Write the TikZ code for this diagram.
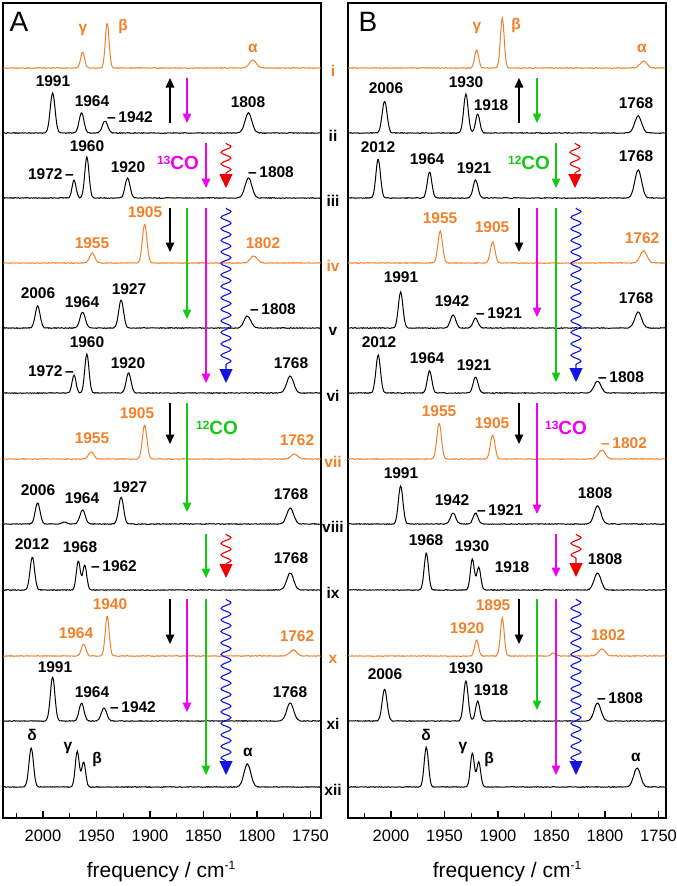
\documentclass[tikz,border=0pt]{standalone}
\usepackage{fontspec}
\setmainfont{Liberation Sans}
\usetikzlibrary{arrows.meta,decorations.pathmorphing}

\definecolor{orangeC}{RGB}{242,128,40}
\definecolor{magC}{RGB}{240,0,240}
\definecolor{greenC}{RGB}{20,200,20}
\definecolor{blueC}{RGB}{20,20,225}
\definecolor{redC}{RGB}{240,0,0}

% one trace per panel, #1 baseline, #2 style, #3 sum of peaks
\newcommand{\specA}[3]{\draw[#2] plot[variable=\n,domain=1740.5:2037,samples=400] ({43+(2000-\n)*1.07},{#1-(#3)+0.35*rand});}
\newcommand{\specB}[3]{\draw[#2] plot[variable=\n,domain=1743.5:2040,samples=400] ({391+(2000-\n)*1.07},{#1-(#3)+0.35*rand});}
\newcommand{\isotope}[1]{\raisebox{5pt}{\fontsize{12}{12}\selectfont #1}}

\begin{document}
\begin{tikzpicture}[x=1pt,y=-1pt,
  declare function={pk(\xx,\cc,\hh,\ww)=\hh*exp(-((\xx-\cc)/\ww)*((\xx-\cc)/\ww));}]
  \tikzset{ blk/.style={black,line width=1pt},
    org/.style={orangeC,line width=1pt},
    lab/.style={font=\bfseries\fontsize{15.5}{16}\selectfont,inner sep=0pt},
    olab/.style={lab,text=orangeC},
    iso/.style={font=\bfseries\fontsize{19}{19}\selectfont,inner sep=0pt},
    tick/.style={font=\fontsize{16.5}{17}\selectfont,inner sep=0pt},
    arr/.style={line width=1.4pt,-{Triangle[length=9.5pt,width=8.5pt]}},
    wavy/.style={line width=1.1pt,decorate,
      decoration={snake,amplitude=5pt,segment length=11.5pt,post length=13pt},
      -{Triangle[length=14pt,width=13pt]}},
    frame/.style={line width=1.2pt},
  }
  \useasboundingbox (0,0) rectangle (677,886);

  % frames and axes
  \draw[frame] (3,3) rectangle (321,818);
  \draw[frame] (348,3) rectangle (666,818);
  \foreach \o/\p in {43/A,391/B}{
    \foreach \f in {2000,1950,...,1750}{
      \draw[frame] ({\o+(2000-\f)*1.07},818) -- ++(0,-7);
      \node[tick] (t\p\f) at ({\o+(2000-\f)*1.07},836) {\f};
    }
    \foreach \f in {2025,1975,...,1775}
      \draw[frame] ({\o+(2000-\f)*1.07},818) -- ++(0,-5);
  }
  \node[font=\fontsize{21}{21}\selectfont] (xA) at (161,872) {frequency / cm\raisebox{8pt}{\fontsize{12}{12}\selectfont -1}};
  \node[font=\fontsize{21}{21}\selectfont] (xB) at (507,872) {frequency / cm\raisebox{8pt}{\fontsize{12}{12}\selectfont -1}};
  \node[font=\fontsize{28}{28}\selectfont,inner sep=0pt] (pA) at (19,22) {A};
  \node[font=\fontsize{28}{28}\selectfont,inner sep=0pt] (pB) at (368,22) {B};

  % row labels
  \foreach \t/\c/\y [count=\k] in {i/orangeC/68,ii/black/133,iii/black/198,iv/orangeC/263,
      v/black/328,vi/black/393,vii/orangeC/459,viii/black/524,ix/black/590,
      x/orangeC/656,xi/black/721,xii/black/787}
    \node[lab,text=\c] (row\k) at (333,\y+3) {\t};

  % panel A traces
  \specA{68}{org}{pk(\n,1963,16,2.6)+pk(\n,1940,45,2.5)+pk(\n,1804,8,4.5)}
  \specA{133}{blk}{pk(\n,1991,40,3.2)+pk(\n,1964,20,3.2)+pk(\n,1942,12,3.5)+pk(\n,1808,20,4.5)}
  \specA{198}{blk}{pk(\n,1971,18,2.6)+pk(\n,1959,41,2.8)+pk(\n,1921,20,3.2)+pk(\n,1808,20,4.5)}
  \specA{263}{org}{pk(\n,1954,10,3.5)+pk(\n,1905,39,3)+pk(\n,1803,7,4.5)}
  \specA{328}{blk}{pk(\n,2005,22,3.2)+pk(\n,1963,16,3.5)+pk(\n,1927,28,3.2)+pk(\n,1809,12,4.5)}
  \specA{393}{blk}{pk(\n,1971,18,2.6)+pk(\n,1959,39,2.8)+pk(\n,1920,20,3.2)+pk(\n,1769,17,4.5)}
  \specA{459}{org}{pk(\n,1955,7,3.5)+pk(\n,1905,34,3)+pk(\n,1765,5,4.5)}
  \specA{524}{blk}{pk(\n,2005,21,3.2)+pk(\n,1980,2,3)+pk(\n,1963,14,3.5)+pk(\n,1927,27,3.2)+pk(\n,1769,16,4.5)}
  \specA{590}{blk}{pk(\n,2010,33,3)+pk(\n,1967,29,2.6)+pk(\n,1961,25,2.6)+pk(\n,1769,17,4.5)}
  \specA{656}{org}{pk(\n,1962,12,3)+pk(\n,1940,40,2.6)+pk(\n,1766,6,4.5)}
  \specA{721}{blk}{pk(\n,1991,44,3)+pk(\n,1964,18,3.2)+pk(\n,1943,13,3.5)+pk(\n,1769,18,4.5)}
  \specA{787}{blk}{pk(\n,2011,39,3)+pk(\n,1968,36,2.6)+pk(\n,1962,25,2.6)+pk(\n,1809,23,4.5)}

  % panel B traces
  \specB{68}{org}{pk(\n,1920,18,2.6)+pk(\n,1896,50,2.5)+pk(\n,1764,7,4.5)}
  \specB{133}{blk}{pk(\n,2006,32,3.2)+pk(\n,1930,39,3)+pk(\n,1919,19,2.8)+pk(\n,1769,17,4.5)}
  \specB{198}{blk}{pk(\n,2012,39,3)+pk(\n,1964,26,3)+pk(\n,1921,18,3.2)+pk(\n,1769,28,4.5)}
  \specB{263}{org}{pk(\n,1954,32,3)+pk(\n,1905,21,3)+pk(\n,1764,12,4.5)}
  \specB{328}{blk}{pk(\n,1991,36,3)+pk(\n,1942,13,3.5)+pk(\n,1921,10,3.2)+pk(\n,1769,16,4.5)}
  \specB{393}{blk}{pk(\n,2012,38,3)+pk(\n,1964,22,3)+pk(\n,1921,16,3.2)+pk(\n,1807,12,4.5)}
  \specB{459}{org}{pk(\n,1955,36,3)+pk(\n,1905,24,3)+pk(\n,1803,9,4.5)}
  \specB{524}{blk}{pk(\n,1991,38,3)+pk(\n,1942,11,3.5)+pk(\n,1921,11,3.2)+pk(\n,1807,18,4.5)}
  \specB{590}{blk}{pk(\n,1967,37,2.8)+pk(\n,1924,31,2.6)+pk(\n,1918,23,2.6)+pk(\n,1807,17,4.5)}
  \specB{656}{org}{pk(\n,1920,16,2.6)+pk(\n,1896,38,2.5)+pk(\n,1848,3,3)+pk(\n,1803,7,4.5)}
  \specB{721}{blk}{pk(\n,2006,32,3.2)+pk(\n,1930,40,3)+pk(\n,1919,20,2.8)+pk(\n,1807,18,4.5)}
  \specB{787}{blk}{pk(\n,1967,40,2.8)+pk(\n,1924,34,2.6)+pk(\n,1918,25,2.6)+pk(\n,1770,19,4.5)}

  % panel A labels
  \node[olab] (A1g) at (83,30) {γ};
  \node[olab] (A1b) at (123,26) {β};
  \node[olab] (A1a) at (253,48) {α};
  \node[lab] (A2a) at (53,81) {1991};
  \node[lab] (A2b) at (92,101) {1964};
  \node[lab,anchor=west] (A2c) at (107,117) {\textendash\,1942};
  \node[lab] (A2d) at (248,102) {1808};
  \node[lab,anchor=east] (A3a) at (74,174) {1972\,\textendash};
  \node[lab] (A3b) at (87,146) {1960};
  \node[lab] (A3c) at (128,167) {1920};
  \node[lab,anchor=west] (A3d) at (248,172) {\textendash\,1808};
  \node[iso,text=magC] (A3e) at (178,163) {\isotope{13}CO};
  \node[olab] (A4a) at (145,212) {1905};
  \node[olab] (A4b) at (92,243) {1955};
  \node[olab] (A4c) at (263,243) {1802};
  \node[lab] (A5a) at (38,293) {2006};
  \node[lab] (A5b) at (82,302) {1964};
  \node[lab] (A5c) at (129,289) {1927};
  \node[lab,anchor=west] (A5d) at (250,309) {\textendash\,1808};
  \node[lab,anchor=east] (A6a) at (74,371) {1972\,\textendash};
  \node[lab] (A6b) at (87,342) {1960};
  \node[lab] (A6c) at (128,363) {1920};
  \node[lab] (A6d) at (291,363) {1768};
  \node[olab] (A7a) at (137,413) {1905};
  \node[olab] (A7b) at (92,438) {1955};
  \node[olab] (A7c) at (297,440) {1762};
  \node[iso,text=greenC] (A7d) at (217,428) {\isotope{12}CO};
  \node[lab] (A8a) at (38,490) {2006};
  \node[lab] (A8b) at (82,498) {1964};
  \node[lab] (A8c) at (130,487) {1927};
  \node[lab] (A8d) at (291,494) {1768};
  \node[lab] (A9a) at (32,544) {2012};
  \node[lab] (A9b) at (80,547) {1968};
  \node[lab,anchor=west] (A9c) at (91,566) {\textendash\,1962};
  \node[lab] (A9d) at (291,558) {1768};
  \node[olab] (A10a) at (110,604) {1940};
  \node[olab] (A10b) at (76,633) {1964};
  \node[olab] (A10c) at (297,636) {1762};
  \node[lab] (A11a) at (55,667) {1991};
  \node[lab] (A11b) at (92,692) {1964};
  \node[lab,anchor=west] (A11c) at (110,707) {\textendash\,1942};
  \node[lab] (A11d) at (290,692) {1768};
  \node[lab] (A12d) at (32,735) {δ};
  \node[lab] (A12g) at (68,748) {γ};
  \node[lab] (A12b) at (97,759) {β};
  \node[lab] (A12a) at (248,752) {α};

  % panel B labels
  \node[olab] (B1g) at (477,28) {γ};
  \node[olab] (B1b) at (516,25) {β};
  \node[olab] (B1a) at (642,48) {α};
  \node[lab] (B2a) at (386,88) {2006};
  \node[lab] (B2b) at (466,82) {1930};
  \node[lab] (B2c) at (491,105) {1918};
  \node[lab] (B2d) at (636,103) {1768};
  \node[lab] (B3a) at (378,147) {2012};
  \node[lab] (B3b) at (427,159) {1964};
  \node[lab] (B3c) at (474,168) {1921};
  \node[lab] (B3d) at (636,156) {1768};
  \node[iso,text=greenC] (B3e) at (529,163) {\isotope{12}CO};
  \node[olab] (B4a) at (440,218) {1955};
  \node[olab] (B4b) at (492,227) {1905};
  \node[olab] (B4c) at (642,238) {1762};
  \node[lab] (B5a) at (401,277) {1991};
  \node[lab] (B5b) at (452,301) {1942};
  \node[lab,anchor=west] (B5c) at (476,313) {\textendash\,1921};
  \node[lab] (B5d) at (636,298) {1768};
  \node[lab] (B6a) at (379,342) {2012};
  \node[lab] (B6b) at (427,358) {1964};
  \node[lab] (B6c) at (474,365) {1921};
  \node[lab,anchor=west] (B6d) at (598,377) {\textendash\,1808};
  \node[olab] (B7a) at (439,411) {1955};
  \node[olab] (B7b) at (492,423) {1905};
  \node[olab,anchor=west] (B7c) at (601,443) {\textendash\,1802};
  \node[iso,text=magC] (B7d) at (566,428) {\isotope{13}CO};
  \node[lab] (B8a) at (401,473) {1991};
  \node[lab] (B8b) at (452,500) {1942};
  \node[lab,anchor=west] (B8c) at (477,510) {\textendash\,1921};
  \node[lab] (B8d) at (595,493) {1808};
  \node[lab] (B9a) at (426,540) {1968};
  \node[lab] (B9b) at (472,546) {1930};
  \node[lab] (B9c) at (512,567) {1918};
  \node[lab] (B9d) at (605,559) {1808};
  \node[olab] (B10a) at (493,605) {1895};
  \node[olab] (B10b) at (467,628) {1920};
  \node[olab] (B10c) at (608,635) {1802};
  \node[lab] (B11a) at (385,674) {2006};
  \node[lab] (B11b) at (466,668) {1930};
  \node[lab] (B11c) at (491,690) {1918};
  \node[lab,anchor=west] (B11d) at (597,698) {\textendash\,1808};
  \node[lab] (B12d) at (426,735) {δ};
  \node[lab] (B12g) at (463,748) {γ};
  \node[lab] (B12b) at (489,759) {β};
  \node[lab] (B12a) at (636,757) {α};

  % panel A arrows
  \draw[arr] (170,123) -- (170,78);
  \draw[arr,magC] (187,78) -- (187,123);
  \draw[arr,magC] (206,143) -- (206,188);
  \draw[wavy,redC] (226,143) -- (226,188);
  \draw[arr] (170,208) -- (170,252);
  \draw[arr,greenC] (187,208) -- (187,319);
  \draw[arr,magC] (206,208) -- (206,383);
  \draw[wavy,blueC] (226,208) -- (226,383);
  \draw[arr] (170,403) -- (170,444);
  \draw[arr,greenC] (187,403) -- (187,512);
  \draw[arr,greenC] (206,534) -- (206,578);
  \draw[wavy,redC] (226,534) -- (226,578);
  \draw[arr] (170,599) -- (170,644);
  \draw[arr,magC] (187,599) -- (187,712);
  \draw[arr,greenC] (206,599) -- (206,775);
  \draw[wavy,blueC] (226,599) -- (226,775);

  % panel B arrows
  \draw[arr] (519,123) -- (519,78);
  \draw[arr,greenC] (537,78) -- (537,123);
  \draw[arr,greenC] (556,143) -- (556,188);
  \draw[wavy,redC] (575,143) -- (575,188);
  \draw[arr] (519,208) -- (519,252);
  \draw[arr,magC] (537,208) -- (537,317);
  \draw[arr,greenC] (556,208) -- (556,382);
  \draw[wavy,blueC] (576,208) -- (576,382);
  \draw[arr] (519,403) -- (519,444);
  \draw[arr,magC] (537,403) -- (537,514);
  \draw[arr,magC] (556,534) -- (556,577);
  \draw[wavy,redC] (576,534) -- (576,577);
  \draw[arr] (519,599) -- (519,644);
  \draw[arr,greenC] (537,599) -- (537,710);
  \draw[arr,magC] (556,599) -- (556,775);
  \draw[wavy,blueC] (576,599) -- (576,775);
\end{tikzpicture}
\end{document}
